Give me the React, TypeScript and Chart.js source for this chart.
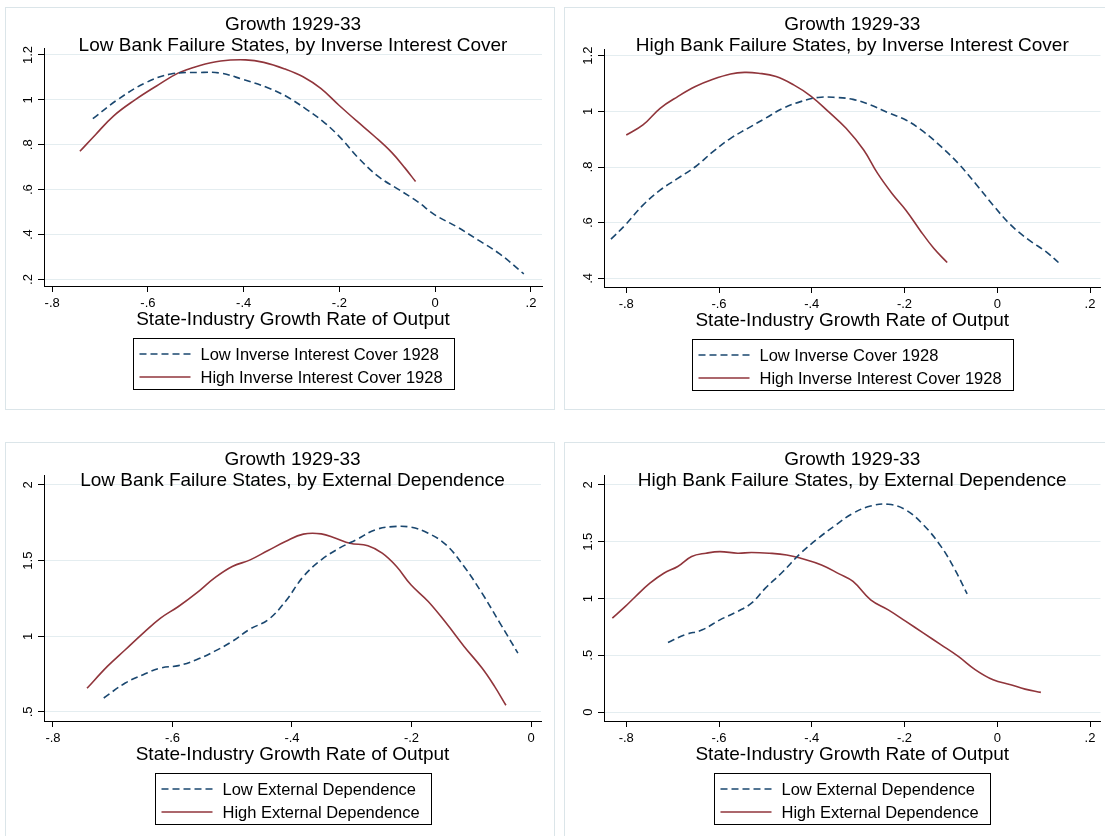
import React, { useEffect, useRef } from 'react';
import { Chart, registerables } from 'chart.js';

Chart.register(...registerables);

const FONT = 'Arial, "Liberation Sans", sans-serif';
const NAVY = '#1a476f';
const MAROON = '#90353b';
const GRID = '#e4edf0';
const PANEL_BORDER = '#dbe5e9';

// ---------- Data ----------
const titleTop = 'Growth 1929-33';
const xAxisTitle = 'State-Industry Growth Rate of Output';

// Panel 1: Low Bank Failure States, by Inverse Interest Cover
const p1LowX = [-0.715, -0.664, -0.604, -0.552, -0.493, -0.448, -0.403, -0.351, -0.313, -0.269, -0.231, -0.194, -0.164, -0.119, -0.075, -0.037, 0.0, 0.045, 0.09, 0.134, 0.185];
const p1LowY = [0.916, 1.0, 1.077, 1.115, 1.122, 1.119, 1.092, 1.055, 1.018, 0.958, 0.898, 0.823, 0.749, 0.659, 0.599, 0.547, 0.487, 0.435, 0.375, 0.315, 0.225];
const p1HighX = [-0.742, -0.709, -0.672, -0.627, -0.582, -0.537, -0.493, -0.448, -0.396, -0.358, -0.313, -0.276, -0.239, -0.201, -0.164, -0.127, -0.09, -0.063, -0.041];
const p1HighY = [0.771, 0.846, 0.928, 1.0, 1.062, 1.119, 1.152, 1.173, 1.178, 1.167, 1.137, 1.103, 1.051, 0.976, 0.906, 0.838, 0.764, 0.696, 0.636];
const p1XTicks = [-0.8, -0.6, -0.4, -0.2, 0, 0.2];
const p1YTicks = [0.2, 0.4, 0.6, 0.8, 1, 1.2];

// Panel 2: High Bank Failure States, by Inverse Interest Cover
const p2LowX = [-0.833, -0.802, -0.764, -0.727, -0.689, -0.651, -0.613, -0.575, -0.538, -0.5, -0.462, -0.424, -0.386, -0.348, -0.311, -0.273, -0.235, -0.197, -0.159, -0.121, -0.084, -0.047, -0.009, 0.029, 0.068, 0.105, 0.132];
const p2LowY = [0.541, 0.592, 0.663, 0.717, 0.759, 0.801, 0.855, 0.903, 0.939, 0.975, 1.011, 1.035, 1.05, 1.05, 1.043, 1.023, 0.995, 0.969, 0.927, 0.873, 0.813, 0.741, 0.663, 0.592, 0.538, 0.496, 0.457];
const p2HighX = [-0.8, -0.764, -0.727, -0.689, -0.651, -0.613, -0.575, -0.545, -0.515, -0.477, -0.439, -0.402, -0.364, -0.326, -0.288, -0.258, -0.227, -0.197, -0.167, -0.137, -0.108];
const p2HighY = [0.915, 0.951, 1.011, 1.053, 1.089, 1.115, 1.134, 1.14, 1.137, 1.125, 1.095, 1.055, 0.999, 0.939, 0.861, 0.777, 0.705, 0.645, 0.574, 0.508, 0.457];
const p2XTicks = [-0.8, -0.6, -0.4, -0.2, 0, 0.2];
const p2YTicks = [0.4, 0.6, 0.8, 1, 1.2];

// Panel 3: Low Bank Failure States, by External Dependence
const p3LowX = [-0.715, -0.679, -0.649, -0.62, -0.59, -0.56, -0.53, -0.5, -0.47, -0.44, -0.411, -0.381, -0.351, -0.321, -0.291, -0.261, -0.231, -0.201, -0.172, -0.142, -0.112, -0.082, -0.052, -0.022];
const p3LowY = [0.592, 0.691, 0.746, 0.79, 0.806, 0.845, 0.9, 0.966, 1.048, 1.109, 1.23, 1.395, 1.505, 1.582, 1.641, 1.703, 1.725, 1.721, 1.681, 1.604, 1.461, 1.285, 1.087, 0.889];
const p3HighX = [-0.743, -0.709, -0.679, -0.649, -0.62, -0.59, -0.56, -0.53, -0.5, -0.47, -0.44, -0.411, -0.381, -0.351, -0.327, -0.303, -0.273, -0.249, -0.225, -0.201, -0.172, -0.142, -0.112, -0.082, -0.061, -0.042];
const p3HighY = [0.656, 0.801, 0.911, 1.021, 1.12, 1.197, 1.285, 1.384, 1.461, 1.505, 1.567, 1.626, 1.675, 1.677, 1.648, 1.615, 1.598, 1.549, 1.461, 1.34, 1.23, 1.087, 0.933, 0.79, 0.669, 0.544];
const p3XTicks = [-0.8, -0.6, -0.4, -0.2, 0];
const p3YTicks = [0.5, 1, 1.5, 2];

// Panel 4: High Bank Failure States, by External Dependence
const p4LowX = [-0.71, -0.674, -0.636, -0.598, -0.56, -0.53, -0.5, -0.462, -0.424, -0.386, -0.348, -0.311, -0.273, -0.235, -0.197, -0.159, -0.121, -0.091, -0.065];
const p4LowY = [0.613, 0.68, 0.724, 0.812, 0.886, 0.959, 1.091, 1.238, 1.399, 1.531, 1.648, 1.751, 1.815, 1.83, 1.78, 1.648, 1.457, 1.252, 1.041];
const p4HighX = [-0.83, -0.802, -0.78, -0.749, -0.719, -0.689, -0.659, -0.628, -0.598, -0.56, -0.53, -0.492, -0.454, -0.424, -0.379, -0.341, -0.311, -0.273, -0.235, -0.197, -0.159, -0.121, -0.084, -0.047, -0.009, 0.029, 0.06, 0.094];
const p4HighY = [0.827, 0.93, 1.018, 1.135, 1.223, 1.282, 1.37, 1.399, 1.413, 1.399, 1.405, 1.399, 1.384, 1.355, 1.296, 1.217, 1.15, 0.988, 0.9, 0.798, 0.695, 0.592, 0.49, 0.372, 0.284, 0.24, 0.202, 0.173];
const p4XTicks = [-0.8, -0.6, -0.4, -0.2, 0, 0.2];
const p4YTicks = [0, 0.5, 1, 1.5, 2];

// ---------- Layout (style) ----------
const CW = 548;
const CH = 401;

type PanelSpec = {
  subtitle: string;
  lowLabel: string;
  highLabel: string;
  lowX: number[]; lowY: number[]; highX: number[]; highY: number[];
  xTicks: number[]; yTicks: number[];
  xMin: number; xMax: number; yMin: number; yMax: number;
  ox: number; oy: number; left: number; rightPad: number; top: number; bottom: number;
};

const panels: PanelSpec[] = [
  {
    subtitle: 'Low Bank Failure States, by Inverse Interest Cover',
    lowLabel: 'Low Inverse Interest Cover 1928', highLabel: 'High Inverse Interest Cover 1928',
    lowX: p1LowX, lowY: p1LowY, highX: p1HighX, highY: p1HighY, xTicks: p1XTicks, yTicks: p1YTicks,
    xMin: -0.817, xMax: 0.223, yMin: 0.171, yMax: 1.231,
    ox: 6, oy: 8, left: 38, rightPad: 12, top: 40, bottom: 278,
  },
  {
    subtitle: 'High Bank Failure States, by Inverse Interest Cover',
    lowLabel: 'Low Inverse Cover 1928', highLabel: 'High Inverse Interest Cover 1928',
    lowX: p2LowX, lowY: p2LowY, highX: p2HighX, highY: p2HighY, xTicks: p2XTicks, yTicks: p2YTicks,
    xMin: -0.848, xMax: 0.2226, yMin: 0.369, yMax: 1.224,
    ox: 565, oy: 8, left: 39, rightPad: 12.5, top: 41, bottom: 279,
  },
  {
    subtitle: 'Low Bank Failure States, by External Dependence',
    lowLabel: 'Low External Dependence', highLabel: 'High External Dependence',
    lowX: p3LowX, lowY: p3LowY, highX: p3HighX, highY: p3HighY, xTicks: p3XTicks, yTicks: p3YTicks,
    xMin: -0.815, xMax: 0.0167, yMin: 0.44, yMax: 2.066,
    ox: 6, oy: 443, left: 38, rightPad: 13, top: 32, bottom: 278,
  },
  {
    subtitle: 'High Bank Failure States, by External Dependence',
    lowLabel: 'Low External Dependence', highLabel: 'High External Dependence',
    lowX: p4LowX, lowY: p4LowY, highX: p4HighX, highY: p4HighY, xTicks: p4XTicks, yTicks: p4YTicks,
    xMin: -0.848, xMax: 0.2226, yMin: -0.079, yMax: 2.088,
    ox: 565, oy: 443, left: 39, rightPad: 12.5, top: 32, bottom: 278,
  },
];

function fmt(v: number): string {
  const r = Math.round(v * 100) / 100;
  return String(r).replace(/^(-?)0\./, '$1.');
}

function Panel({ spec }: { spec: PanelSpec }) {
  const ref = useRef<HTMLCanvasElement>(null);
  useEffect(() => {
    const canvas = ref.current;
    if (!canvas) return;
    const X_H = 44;
    const boxLegend = {
      id: 'boxLegend',
      afterDraw(chart: any) {
        const { ctx, chartArea } = chart;
        ctx.save();
        ctx.font = `16.5px ${FONT}`;
        const labels: string[] = chart.data.datasets.map((d: any) => d.label);
        const maxW = Math.max(...labels.map((t) => ctx.measureText(t).width));
        const boxW = Math.round(6 + 51 + 10 + maxW + 12);
        const cx = (chartArea.left + chartArea.right) / 2;
        const x0 = Math.round(cx - boxW / 2) + 0.5;
        const y0 = Math.round(chartArea.bottom + 52) + 0.5;
        ctx.setLineDash([]);
        ctx.strokeStyle = '#000';
        ctx.lineWidth = 1;
        ctx.strokeRect(x0, y0, boxW, 51);
        chart.data.datasets.forEach((ds: any, i: number) => {
          const y = Math.round(y0 + 15 + 23 * i);
          ctx.beginPath();
          ctx.strokeStyle = ds.borderColor;
          ctx.lineWidth = ds.borderWidth;
          ctx.setLineDash(ds.borderDash || []);
          ctx.moveTo(x0 + 6, y);
          ctx.lineTo(x0 + 57, y);
          ctx.stroke();
          ctx.setLineDash([]);
          ctx.fillStyle = '#000';
          ctx.textBaseline = 'middle';
          ctx.textAlign = 'left';
          ctx.fillText(labels[i], x0 + 67, y + 1);
        });
        ctx.restore();
      },
    };
    const chart = new Chart(canvas, {
      type: 'line',
      data: {
        datasets: [
          {
            label: spec.lowLabel,
            data: spec.lowX.map((x, i) => ({ x, y: spec.lowY[i] })),
            borderColor: NAVY,
            backgroundColor: NAVY,
            borderWidth: 1.6,
            borderDash: [7, 4],
            pointRadius: 0,
            tension: 0.4,
            fill: false,
          },
          {
            label: spec.highLabel,
            data: spec.highX.map((x, i) => ({ x, y: spec.highY[i] })),
            borderColor: MAROON,
            backgroundColor: MAROON,
            borderWidth: 1.6,
            pointRadius: 0,
            tension: 0.4,
            fill: false,
          },
        ],
      },
      options: {
        animation: false,
        responsive: false,
        devicePixelRatio: 1,
        layout: { padding: { left: 0, right: spec.rightPad, top: 0, bottom: CH - spec.bottom - X_H } },
        plugins: {
          legend: { display: false },
          tooltip: { enabled: false },
          title: {
            display: true,
            fullSize: false,
            text: [titleTop, spec.subtitle],
            color: '#000',
            font: { size: 19, family: FONT, weight: 'normal', lineHeight: '21px' },
            padding: { top: 6, bottom: spec.top - 48 },
          },
        },
        scales: {
          x: {
            type: 'linear',
            min: spec.xMin,
            max: spec.xMax,
            afterBuildTicks: (s: any) => { s.ticks = spec.xTicks.map((v) => ({ value: v })); },
            afterFit: (s: any) => { s.height = X_H; },
            ticks: {
              autoSkip: false, minRotation: 0, maxRotation: 0, padding: 4, color: '#000',
              font: { size: 13, family: FONT },
              callback: (v: any) => fmt(Number(v)),
            },
            grid: { drawOnChartArea: false, drawTicks: true, tickLength: 6, tickColor: '#000', tickWidth: 1 },
            border: { display: true, color: '#000', width: 1 },
            title: {
              display: true, text: xAxisTitle, color: '#000',
              font: { size: 19, family: FONT, lineHeight: '21px' },
              padding: { top: 0, bottom: 0 },
            },
          },
          y: {
            type: 'linear',
            min: spec.yMin,
            max: spec.yMax,
            afterBuildTicks: (s: any) => { s.ticks = spec.yTicks.map((v) => ({ value: v })); },
            afterFit: (s: any) => { s.width = spec.left; },
            ticks: {
              autoSkip: false, minRotation: 90, maxRotation: 90, padding: 1, crossAlign: 'center', color: '#000',
              font: { size: 13, family: FONT },
              callback: (v: any) => fmt(Number(v)),
            },
            grid: { color: GRID, lineWidth: 1, drawTicks: true, tickLength: 6, tickColor: '#000', tickWidth: 1 },
            border: { display: true, color: '#000', width: 1 },
          },
        },
      },
      plugins: [boxLegend],
    } as any);
    return () => chart.destroy();
  }, [spec]);
  return (
    <div
      style={{
        position: 'absolute',
        left: spec.ox - 1,
        top: spec.oy - 1,
        width: CW,
        height: CH,
        border: `1px solid ${PANEL_BORDER}`,
        background: '#fff',
      }}
    >
      <canvas ref={ref} width={CW} height={CH} style={{ display: 'block', width: CW, height: CH }} />
    </div>
  );
}

export default function App() {
  return (
    <div
      style={{
        position: 'absolute',
        left: 0,
        top: 0,
        width: 1105,
        height: 836,
        overflow: 'hidden',
        background: '#fff',
      }}
    >
      {panels.map((p, i) => (
        <Panel key={i} spec={p} />
      ))}
    </div>
  );
}
